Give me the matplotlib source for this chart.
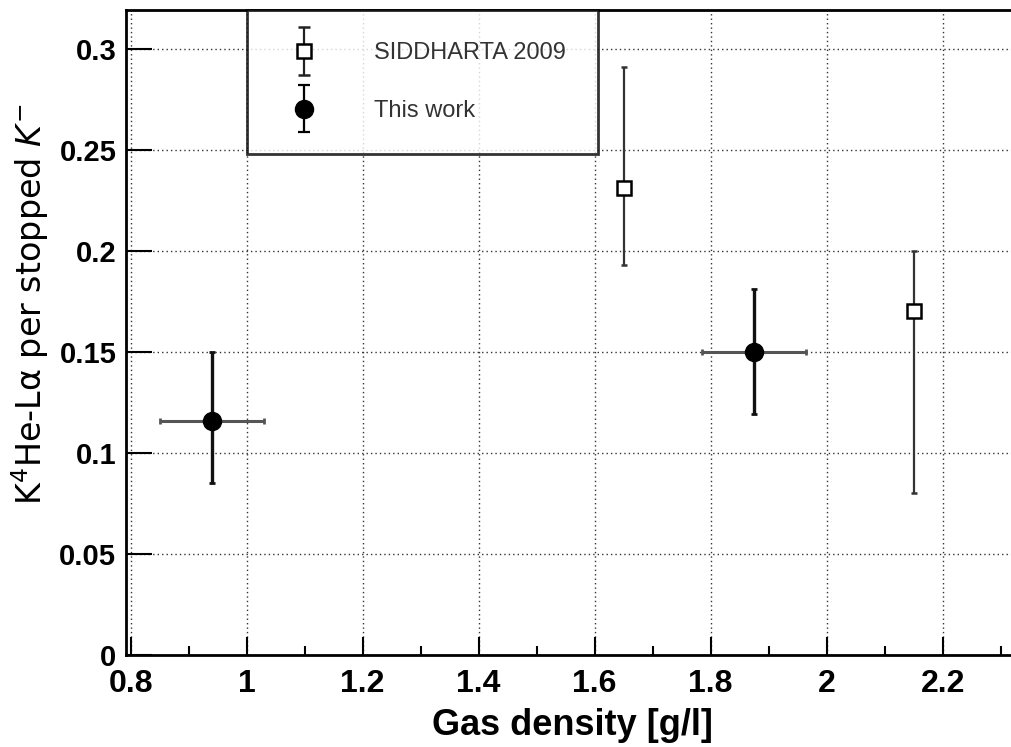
import matplotlib
matplotlib.use("Agg")
import matplotlib.pyplot as plt
import numpy as np
from matplotlib.ticker import MultipleLocator
from matplotlib.legend_handler import HandlerErrorbar
from matplotlib.container import ErrorbarContainer

plt.rcParams['font.family'] = ['Liberation Sans', 'DejaVu Sans']
plt.rcParams['mathtext.fontset'] = 'dejavusans'

# this work
work_x = np.array([0.94, 1.875])
work_xerr = np.array([0.09, 0.09])
work_y = np.array([0.116, 0.150])
work_ylo = np.array([0.031, 0.031])
work_yhi = np.array([0.034, 0.031])

# SIDDHARTA 2009
sid_x = np.array([1.65, 2.15])
sid_y = np.array([0.231, 0.170])
sid_ylo = np.array([0.038, 0.090])
sid_yhi = np.array([0.060, 0.030])

fig = plt.figure(figsize=(10.12, 7.47), dpi=100)
ax = fig.add_axes([0.1245, 0.1232, 0.9215, 0.8630])

ax.errorbar(sid_x, sid_y, yerr=[sid_ylo, sid_yhi], fmt='s', ms=10,
            mfc='white', mec='black', mew=1.8, ecolor='#333333',
            elinewidth=1.6, capsize=2, capthick=1.6, zorder=4)
ax.errorbar(work_x, work_y, xerr=work_xerr, fmt='none', ecolor='#555555',
            elinewidth=2.2, capsize=2, capthick=2, zorder=4)
ax.errorbar(work_x, work_y, yerr=[work_ylo, work_yhi], fmt='o', ms=13,
            color='black', ecolor='#111111', elinewidth=2.4, capsize=2,
            capthick=2, zorder=5)

ax.set_xlim(0.7919, 2.4)
ax.set_ylim(0, 0.319)

ax.xaxis.set_minor_locator(MultipleLocator(0.1))
ax.set_xticks(np.arange(0.8, 2.3, 0.2))
ax.set_xticklabels(['0.8', '1', '1.2', '1.4', '1.6', '1.8', '2', '2.2'])
ax.set_yticks(np.arange(0, 0.31, 0.05))
ax.set_yticklabels(['0', '0.05', '0.1', '0.15', '0.2', '0.25', '0.3'])

ax.tick_params(axis='x', which='major', direction='in', length=13, width=1.5,
               labelsize=23, pad=10)
ax.tick_params(axis='x', which='minor', direction='in', length=6.5, width=1.5)
ax.tick_params(axis='y', which='major', direction='in', length=19, width=1.5,
               labelsize=21, pad=7)
for lab in ax.get_xticklabels() + ax.get_yticklabels():
    lab.set_fontweight('bold')

ax.grid(True, which='major', color='#333333', linestyle=(0, (1, 2.2)),
        linewidth=1.0)
ax.set_axisbelow(True)

for s in ['left', 'bottom', 'top']:
    ax.spines[s].set_linewidth(2)
ax.spines['right'].set_visible(False)

ax.set_xlabel('Gas density [g/l]', fontsize=26, fontweight='bold')
ax.xaxis.set_label_coords(0.479, -0.083)
ax.set_ylabel(r'K$^{4}$He-Lα per stopped $K^{-}$', fontsize=24,
              family=['DejaVu Sans'])
ax.yaxis.set_label_coords(-0.08, 0.545)

# legend handles (no data)
h_sid = ax.errorbar([np.nan], [np.nan], yerr=[1], fmt='s', ms=10, mfc='white',
                    mec='black', mew=1.8, ecolor='#222222', elinewidth=1.6,
                    capsize=4.5, capthick=1.6)
h_work = ax.errorbar([np.nan], [np.nan], yerr=[1], fmt='o', ms=13,
                     color='black', elinewidth=1.6, capsize=4.5, capthick=1.6)
leg = ax.legend([h_sid, h_work], ['SIDDHARTA 2009', 'This work'],
                loc='upper left', bbox_to_anchor=(0.1297, 1.0),
                borderaxespad=0, fontsize=17, frameon=True, fancybox=False,
                edgecolor='black', borderpad=1.35, handlelength=2.1,
                handletextpad=1.95, labelspacing=1.52,
                handler_map={ErrorbarContainer: HandlerErrorbar(yerr_size=1.0)})
leg.get_frame().set_linewidth(2)
for t in leg.get_texts():
    t.set_color('#333333')

fig.savefig('out.png', dpi=100)
